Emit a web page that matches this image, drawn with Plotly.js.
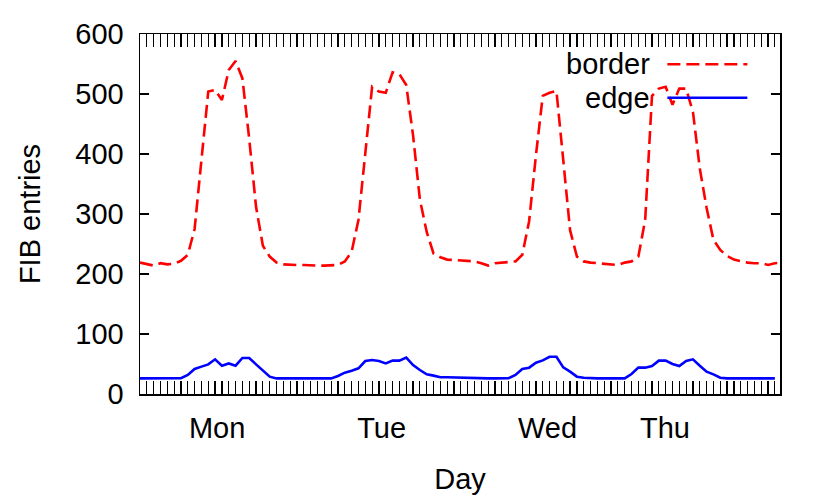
<!DOCTYPE html>
<html>
<head>
<meta charset="utf-8">
<script src="https://cdn.plot.ly/plotly-3.0.1.min.js"></script>
<style>
  html, body { margin: 0; padding: 0; background: #fff; }
  #chart { width: 830px; height: 503px; }
</style>
</head>
<body>
<div id="chart"></div>
<script>
// FIB entries per hourly sample, first sample sits on the left border
var border = [219,
	217, 214, 218, 216, 217, 222, 232, 275, 390, 504,
	507, 490, 540, 555, 526, 425, 312, 247, 229, 219,
	216, 215, 215, 215, 214, 214, 214, 214, 215, 221,
	237, 290, 398, 512, 504, 502, 536, 533, 515, 431,
	324, 270, 234, 228, 224, 223, 223, 222, 221, 218,
	214, 218, 219, 219, 221, 232, 288, 398, 497, 502,
	505, 390, 273, 229, 221, 219, 218, 217, 216, 215,
	219, 221, 229, 290, 497, 509, 512, 482, 509, 509,
	470, 376, 310, 257, 240, 230, 224, 221, 219, 218,
	218, 215, 218, 219];
var edge = [26,
	26, 26, 26.5, 26, 26, 26.5, 31.7, 41.7, 45.6, 49.4,
	57.8, 47.2, 51, 47.2, 60, 60, 49.4, 38.3, 28.9, 26,
	26, 26, 26, 26.3, 26, 26, 26, 26, 30, 35.6,
	38.9, 42.8, 55, 56.7, 55, 51, 55.6, 55.6, 60.6, 48.3,
	40, 32.8, 30.6, 27.8, 28, 27.5, 27, 26.7, 26, 26,
	26, 26, 26, 26.5, 31.7, 41.7, 43.9, 52.2, 56, 62,
	62, 44.4, 37.2, 28.9, 27, 26, 26, 26, 26, 26,
	26, 33.3, 43.9, 43.9, 46.7, 55.6, 55.6, 50, 46.7, 55,
	57.8, 47.2, 37.2, 32.8, 27.2, 26, 26, 26, 26, 26.3,
	26, 26, 26];
var dayPos = [10.3, 34.4, 58.7, 75.9];
var dayNames = ['Mon', 'Tue', 'Wed', 'Thu'];
var yTicks = [0, 100, 200, 300, 400, 500, 600];

var hours = border.map((v, i) => i - 1);
var xRange = [-1, 92.75];
var FONT = 'Liberation Sans, Arial, Helvetica, sans-serif';

var data = [{
	x: hours,
	y: border,
	type: 'scatter',
	mode: 'lines',
	name: 'border',
	line: {color: '#ff0000', width: 2.6, dash: '13px,6px'},
	showlegend: false
}, {
	x: hours,
	y: edge,
	type: 'scatter',
	mode: 'lines',
	name: 'edge',
	line: {color: '#0000ff', width: 2.6},
	showlegend: false
}, {
	// carries the day labels axis
	x: [], y: [],
	xaxis: 'x2',
	type: 'scatter',
	mode: 'lines',
	showlegend: false,
	hoverinfo: 'skip'
}];

var layout = {
	width: 830,
	height: 503,
	margin: {l: 140, r: 50, t: 34, b: 109},
	paper_bgcolor: '#fff',
	plot_bgcolor: '#fff',
	font: {family: FONT, size: 29, color: '#000'},
	showlegend: false,
	xaxis: {
		range: xRange,
		tickmode: 'linear',
		tick0: 0,
		dtick: 1,
		ticks: 'inside',
		ticklen: 13,
		tickwidth: 1.2,
		tickcolor: '#000',
		mirror: 'ticks',
		showline: true,
		linecolor: '#000',
		linewidth: 1.5,
		showticklabels: false,
		showgrid: false,
		zeroline: false,
		fixedrange: true
	},
	xaxis2: {
		overlaying: 'x',
		anchor: 'y',
		side: 'bottom',
		range: xRange,
		tickmode: 'array',
		tickvals: dayPos,
		ticktext: dayNames,
		ticks: '',
		ticklabelstandoff: 14,
		showline: false,
		showgrid: false,
		zeroline: false,
		tickfont: {size: 29},
		title: {text: 'Day', font: {size: 29}, standoff: 25}
	},
	yaxis: {
		range: [0, 600],
		tickmode: 'array',
		tickvals: yTicks,
		ticks: 'inside',
		ticklen: 9,
		tickwidth: 1.2,
		tickcolor: '#000',
		mirror: 'ticks',
		showline: true,
		linecolor: '#000',
		linewidth: 1.5,
		showgrid: false,
		zeroline: false,
		ticklabelstandoff: 9,
		tickfont: {size: 29},
		title: {text: 'FIB entries', font: {size: 29}, standoff: 26}
	},
	// gnuplot-style key: label on the left, sample line on the right
	shapes: [{
		type: 'line', xref: 'paper', yref: 'paper',
		x0: 0.824, x1: 0.949, y0: 0.916, y1: 0.916,
		line: {color: '#ff0000', width: 2.6, dash: '13px,6px'}
	}, {
		type: 'line', xref: 'paper', yref: 'paper',
		x0: 0.824, x1: 0.949, y0: 0.823, y1: 0.823,
		line: {color: '#0000ff', width: 2.6}
	}],
	annotations: [{
		text: 'border', xref: 'paper', yref: 'paper',
		x: 0.80, y: 0.916, xanchor: 'right', yanchor: 'middle',
		showarrow: false, font: {size: 29}
	}, {
		text: 'edge', xref: 'paper', yref: 'paper',
		x: 0.80, y: 0.823, xanchor: 'right', yanchor: 'middle',
		showarrow: false, font: {size: 29}
	}]
};

Plotly.newPlot('chart', data, layout, {staticPlot: true});
</script>
</body>
</html>
